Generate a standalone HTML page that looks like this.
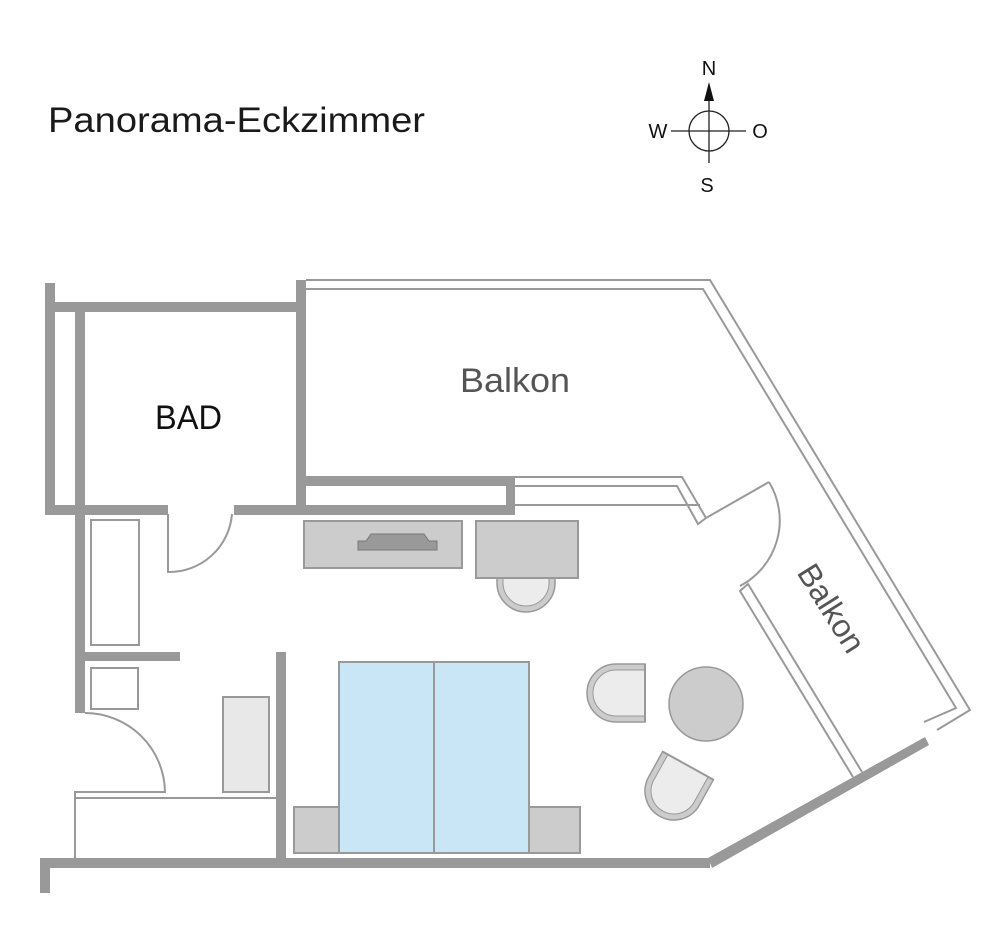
<!DOCTYPE html>
<html><head><meta charset="utf-8"><style>html,body{margin:0;padding:0;background:#fff}svg{display:block}</style></head>
<body>
<svg width="994" height="934" viewBox="0 0 994 934" xmlns="http://www.w3.org/2000/svg" font-family="Liberation Sans, sans-serif">
<rect width="994" height="934" fill="#fff"/>
<text x="48" y="132" font-size="35" fill="#1a1a1a" textLength="377" lengthAdjust="spacingAndGlyphs">Panorama-Eckzimmer</text>
<!-- compass -->
<g stroke="#222" stroke-width="1.3" fill="none">
<circle cx="709" cy="131" r="20"/>
<line x1="671" y1="131" x2="746" y2="131"/>
<line x1="709" y1="100" x2="709" y2="163"/>
</g>
<polygon points="709,82 704,101 714,101" fill="#111"/>
<g font-size="20" fill="#111" text-anchor="middle">
<text x="709" y="75">N</text>
<text x="658" y="138">W</text>
<text x="760" y="138">O</text>
<text x="707" y="192">S</text>
</g>
<!-- balkon thin outlines -->
<g stroke="#999" stroke-width="2" fill="none">
<polyline points="306,280 710,280 970,710 937,730"/>
<polyline points="306,289 703,289 956,708 924,722"/>
<polyline points="515,477 682,477 706,518"/>
<polyline points="515,486 677,486 698,524 706,518"/>
<line x1="515" y1="505" x2="700" y2="505"/>
<polyline points="853,777 740,591 748,584 862,772"/>
<line x1="706" y1="518" x2="769" y2="482"/>
<path d="M769,482 A74,74 0 0 1 740,586"/>
</g>
<!-- walls -->
<g fill="#999">
<rect x="45" y="283" width="10" height="232"/>
<rect x="45" y="302" width="256" height="10"/>
<rect x="75" y="302" width="10" height="411"/>
<rect x="296" y="280" width="10" height="234"/>
<rect x="45" y="505" width="123" height="10"/>
<rect x="234" y="505" width="281" height="10"/>
<rect x="300" y="476" width="215" height="10"/>
<rect x="506" y="476" width="9" height="38"/>
<rect x="85" y="652" width="95" height="9"/>
<rect x="276" y="652" width="10" height="208"/>
<rect x="40" y="858" width="670" height="10"/>
<rect x="40" y="858" width="10" height="35"/>
<polygon points="708,858 925,737 929,745 712,868"/>
</g>
<!-- doors & fixtures -->
<g stroke="#999" stroke-width="2" fill="none">
<path d="M168,514 L168,572 A63,63 0 0 0 232,514"/>
<rect x="91" y="520" width="48" height="125" fill="#fff"/>
<rect x="91" y="668" width="47" height="41" fill="#fff"/>
<path d="M85,713 A80,80 0 0 1 165,792 L75,792 L75,798 L276,798"/>
<line x1="75" y1="798" x2="75" y2="858"/>
</g>
<rect x="223" y="697" width="46" height="95" fill="#e8e8e8" stroke="#999" stroke-width="2"/>
<!-- desk -->
<rect x="304" y="521" width="158" height="47" fill="#ccc" stroke="#999" stroke-width="2"/>
<polygon points="358,550 358,541 366,541 371,534 424,534 429,541 437,541 437,550" fill="#999" stroke="#777" stroke-width="1"/>
<!-- chairs -->
<defs>
<g id="ch">
<path d="M-29,-29 L29,-29 L29,0 A29,29 0 0 1 -29,0 Z" fill="#ccc" stroke="#999" stroke-width="1.5"/>
<path d="M-23,-29 L23,-29 L23,0 A23,23 0 0 1 -23,0 Z" fill="#ececec" stroke="#999" stroke-width="1"/>
<line x1="-29" y1="-29" x2="29" y2="-29" stroke="#999" stroke-width="2"/>
</g>
</defs>
<use href="#ch" transform="translate(526,583)"/>
<rect x="476" y="521" width="102" height="57" fill="#ccc" stroke="#999" stroke-width="2"/>
<use href="#ch" transform="translate(616,693) rotate(90)"/>
<use href="#ch" transform="translate(674,791) rotate(29)"/>
<circle cx="706" cy="704" r="37" fill="#ccc" stroke="#999" stroke-width="1.5"/>
<!-- bed -->
<rect x="294" y="807" width="45" height="46" fill="#ccc" stroke="#999" stroke-width="2"/>
<rect x="529" y="807" width="51" height="46" fill="#ccc" stroke="#999" stroke-width="2"/>
<rect x="339" y="662" width="190" height="191" fill="#c8e6f6" stroke="#999" stroke-width="2"/>
<line x1="434" y1="662" x2="434" y2="853" stroke="#999" stroke-width="2"/>
<!-- labels -->
<text x="155" y="429" font-size="34" fill="#111" textLength="67" lengthAdjust="spacingAndGlyphs">BAD</text>
<text x="460" y="392" font-size="34" fill="#555" textLength="110" lengthAdjust="spacingAndGlyphs">Balkon</text>
<text x="0" y="0" font-size="32" fill="#555" text-anchor="middle" transform="translate(822,614) rotate(58)">Balkon</text>
</svg>
</body></html>
